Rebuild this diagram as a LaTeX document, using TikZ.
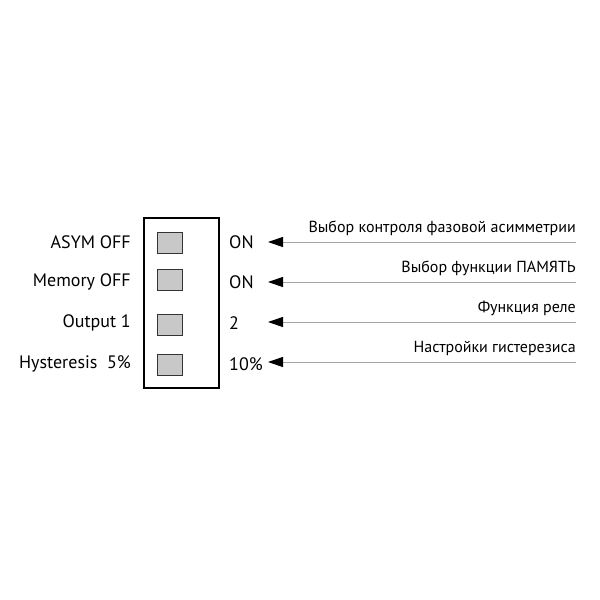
\documentclass[tikz,border=0pt]{standalone}
\usepackage{fontspec}
\setmainfont{PT Sans}
\usetikzlibrary{arrows.meta}
\definecolor{keygray}{RGB}{200,200,200}
\definecolor{linegray}{RGB}{165,165,165}

\begin{document}
\begin{tikzpicture}[
		x=1pt,y=-1pt,
		every node/.style={inner sep=0pt},
		keybox/.style={draw=black!80,fill=keygray,line width=1pt,minimum width=25pt,minimum height=21pt},
		leftlab/.style={anchor=east,font=\fontsize{18}{20}\selectfont},
		rightlab/.style={anchor=west,font=\fontsize{18}{20}\selectfont},
		note/.style={anchor=south east,font=\fontsize{16}{18}\selectfont},
		pointer/.style={draw=linegray,line width=1pt,-{Triangle[color=black,length=15pt,width=10pt]}}
		]
		\useasboundingbox (0,0) rectangle (600,600);
		% switch housing
		\draw[line width=2pt] (144,218) rectangle (219,388);
		\node[keybox] (k1) at (169.5,242.5) {};
		\node[keybox] (k2) at (169.5,279.5) {};
		\node[keybox] (k3) at (169.5,324.5) {};
		\node[keybox] (k4) at (169.5,365) {};
		% left side
		\node[leftlab] (l1) at (131,242) {ASYM OFF};
		\node[leftlab] (l2) at (131,282) {Memory OFF};
		\node[leftlab] (l3) at (131,323) {Output 1};
		\node[leftlab] (l4) at (131,364) {Hysteresis\ \ 5\%};
		% right side
		\node[rightlab] (r1) at (229,242) {ON};
		\node[rightlab] (r2) at (229,282) {ON};
		\node[rightlab] (r3) at (229,323) {2};
		\node[rightlab] (r4) at (229,364) {10\%};
		\coordinate (e1) at (576,242);
		\coordinate (e2) at (576,282);
		\coordinate (e3) at (576,322);
		\coordinate (e4) at (576,362);
		\coordinate (t1) at (268,242);
		\coordinate (t2) at (268,282);
		\coordinate (t3) at (268,322);
		\coordinate (t4) at (268,362);
		\draw[pointer] (e1) -- (t1);
		\draw[pointer] (e2) -- (t2);
		\draw[pointer] (e3) -- (t3);
		\draw[pointer] (e4) -- (t4);
		\node[note] (n1) at (576,236) {Выбор контроля фазовой асимметрии};
		\node[note] (n2) at (576,276) {Выбор функции ПАМЯТЬ};
		\node[note] (n3) at (576,316) {Функция реле};
		\node[note] (n4) at (576,356) {Настройки гистерезиса};
	\end{tikzpicture}
\end{document}
